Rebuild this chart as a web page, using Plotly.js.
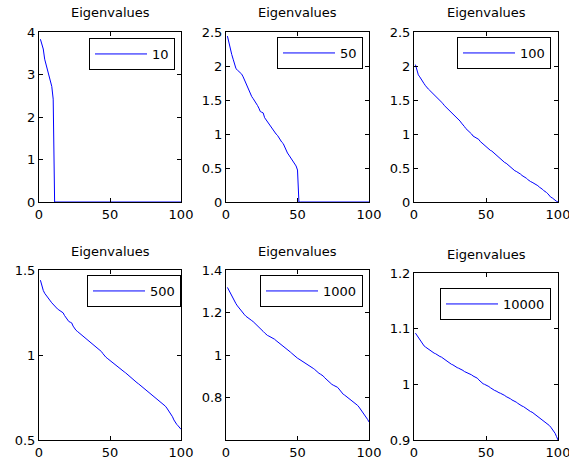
<!DOCTYPE html>
<html>
<head>
<meta charset="utf-8">
<script src="https://cdn.plot.ly/plotly-3.0.1.min.js"></script>
<style>html,body{margin:0;padding:0;background:#fff;}#chart{width:569px;height:465px;}</style>
</head>
<body>
<div id="chart"></div>
<script>
// Legend labels (matrix sizes)
const seriesNames = ['10', '50', '100', '500', '1000', '10000'];
const subplotTitle = 'Eigenvalues';

// Eigenvalue index 1..100
const idx = [];
for (let i = 1; i <= 100; i++) idx.push(i);

const eig10 = [3.83,3.72,3.60,3.36,3.22,3.12,2.98,2.85,2.72,2.42,
  0,0,0,0,0,0,0,0,0,0, 0,0,0,0,0,0,0,0,0,0, 0,0,0,0,0,0,0,0,0,0,
  0,0,0,0,0,0,0,0,0,0, 0,0,0,0,0,0,0,0,0,0, 0,0,0,0,0,0,0,0,0,0,
  0,0,0,0,0,0,0,0,0,0, 0,0,0,0,0,0,0,0,0,0, 0,0,0,0,0,0,0,0,0,0];

const eig50 = [2.44,2.34,2.25,2.17,2.10,2.02,1.96,1.94,1.92,1.89,
  1.88,1.84,1.79,1.74,1.70,1.63,1.58,1.55,1.52,1.49,
  1.46,1.42,1.38,1.33,1.32,1.31,1.24,1.21,1.18,1.15,
  1.12,1.09,1.06,1.02,1.00,0.98,0.94,0.91,0.88,0.86,
  0.81,0.76,0.72,0.69,0.66,0.63,0.60,0.57,0.53,0.47,
  0,0,0,0,0,0,0,0,0,0, 0,0,0,0,0,0,0,0,0,0, 0,0,0,0,0,0,0,0,0,0,
  0,0,0,0,0,0,0,0,0,0, 0,0,0,0,0,0,0,0,0,0];

const eig100 = [2.02,1.92,1.87,1.84,1.80,1.77,1.74,1.71,1.68,1.66,
  1.64,1.62,1.59,1.57,1.55,1.53,1.51,1.49,1.47,1.45,
  1.42,1.40,1.38,1.36,1.34,1.32,1.29,1.27,1.25,1.23,
  1.21,1.19,1.16,1.14,1.11,1.08,1.06,1.05,1.03,1.00,
  0.97,0.96,0.95,0.94,0.92,0.89,0.87,0.85,0.83,0.81,
  0.79,0.78,0.76,0.75,0.73,0.71,0.70,0.68,0.66,0.64,
  0.62,0.60,0.58,0.57,0.55,0.53,0.52,0.50,0.48,0.46,
  0.45,0.44,0.42,0.41,0.39,0.38,0.37,0.35,0.33,0.31,
  0.30,0.29,0.28,0.26,0.25,0.24,0.22,0.21,0.19,0.17,
  0.16,0.14,0.12,0.09,0.07,0.06,0.04,0.02,0.01,0.00];

const eig500 = [1.440,1.405,1.380,1.363,1.350,1.339,1.328,1.318,1.307,1.297,
  1.288,1.279,1.271,1.265,1.259,1.254,1.248,1.232,1.218,1.207,
  1.197,1.193,1.189,1.170,1.154,1.146,1.139,1.132,1.125,1.118,
  1.111,1.104,1.098,1.091,1.084,1.078,1.071,1.064,1.058,1.051,
  1.044,1.038,1.031,1.020,1.008,0.996,0.988,0.981,0.974,0.967,
  0.960,0.953,0.946,0.938,0.931,0.925,0.919,0.913,0.907,0.901,
  0.895,0.887,0.879,0.872,0.864,0.857,0.850,0.844,0.837,0.831,
  0.824,0.817,0.810,0.803,0.797,0.790,0.783,0.777,0.770,0.762,
  0.755,0.748,0.740,0.732,0.726,0.720,0.715,0.709,0.699,0.688,
  0.677,0.665,0.652,0.637,0.618,0.601,0.592,0.583,0.573,0.563];

const eig1000 = [1.318,1.305,1.290,1.274,1.261,1.250,1.241,1.231,1.222,1.212,
  1.204,1.196,1.189,1.182,1.176,1.171,1.167,1.162,1.157,1.151,
  1.145,1.139,1.132,1.125,1.118,1.111,1.104,1.097,1.092,1.089,
  1.086,1.082,1.079,1.074,1.068,1.063,1.058,1.053,1.047,1.041,
  1.036,1.031,1.025,1.020,1.014,1.008,1.001,0.995,0.989,0.985,
  0.981,0.977,0.973,0.969,0.964,0.960,0.955,0.951,0.946,0.941,
  0.937,0.932,0.925,0.919,0.914,0.910,0.906,0.901,0.893,0.886,
  0.879,0.872,0.866,0.862,0.858,0.855,0.851,0.848,0.840,0.831,
  0.822,0.815,0.811,0.806,0.801,0.797,0.792,0.786,0.781,0.775,
  0.769,0.763,0.755,0.746,0.737,0.728,0.718,0.709,0.697,0.685];

const eig10000 = [1.092,1.088,1.084,1.080,1.076,1.072,1.069,1.067,1.065,1.063,
  1.061,1.059,1.057,1.056,1.055,1.053,1.052,1.050,1.049,1.047,
  1.045,1.044,1.042,1.040,1.038,1.036,1.035,1.033,1.032,1.030,
  1.029,1.028,1.026,1.025,1.023,1.022,1.020,1.019,1.018,1.017,
  1.015,1.014,1.013,1.011,1.008,1.005,1.003,1.001,1.000,0.999,
  0.998,0.996,0.994,0.992,0.990,0.989,0.988,0.986,0.985,0.984,
  0.983,0.981,0.980,0.978,0.977,0.975,0.974,0.972,0.971,0.969,
  0.968,0.966,0.964,0.963,0.961,0.960,0.958,0.957,0.955,0.953,
  0.951,0.950,0.948,0.946,0.944,0.942,0.940,0.939,0.937,0.935,
  0.933,0.931,0.929,0.926,0.923,0.920,0.916,0.912,0.906,0.900];

const allSeries = [eig10, eig50, eig100, eig500, eig1000, eig10000];

const xTicks = [0, 50, 100];
const yRanges = [[0,4],[0,2.5],[0,2.5],[0.5,1.5],[0.6,1.4],[0.9,1.2]];
const yTicks = [[0,1,2,3,4],[0,0.5,1,1.5,2,2.5],[0,0.5,1,1.5,2,2.5],[0.5,1,1.5],[0.8,1,1.2,1.4],[0.9,1,1.1,1.2]];

const W = 569, H = 465;
// pixel boxes of the axes [left, right, top, bottom]
const boxes = [[39,181,32,202],[226,369,32,202],[414,558,32,202],
               [39,181,270,440],[226,369,270,440],[414,558,273,440]];
// legend top-right corners in pixels
const legPos = [[175,38],[363,37],[551,37],[181,275],[363,275],[551,288]];
const titleY = [13,13,13,251,251,255];

const FONT = 'DejaVu Sans, Liberation Sans, Arial, sans-serif';
const data = [];
const layout = {
  width: W, height: H,
  margin: {l:0, r:0, t:0, b:0},
  paper_bgcolor: '#fff', plot_bgcolor: '#fff',
  font: {family: FONT, size: 13, color: '#000'},
  annotations: []
};

for (let k = 0; k < 6; k++) {
  const n = k + 1;
  const sfx = n === 1 ? '' : String(n);
  const legName = n === 1 ? 'legend' : 'legend' + n;
  data.push({
    x: idx, y: allSeries[k], type: 'scatter', mode: 'lines',
    name: seriesNames[k],
    line: {color: '#0000ff', width: 1},
    xaxis: 'x' + sfx, yaxis: 'y' + sfx,
    legend: legName, showlegend: true
  });
  const b = boxes[k];
  const common = {
    showgrid: false, zeroline: false, showline: true, linecolor: '#000', linewidth: 1,
    mirror: 'ticks', ticks: 'inside', ticklen: 4, tickcolor: '#000', tickwidth: 1,
    ticklabeloverflow: 'allow',
    tickfont: {family: FONT, size: 13, color: '#000'}, fixedrange: true
  };
  layout['xaxis' + sfx] = Object.assign({}, common, {
    domain: [b[0]/W, b[1]/W], anchor: 'y' + sfx,
    range: [0, 100], tickvals: xTicks, ticktext: xTicks.map(String)
  });
  layout['yaxis' + sfx] = Object.assign({}, common, {
    domain: [1 - b[3]/H, 1 - b[2]/H], anchor: 'x' + sfx,
    range: yRanges[k], tickvals: yTicks[k], ticktext: yTicks[k].map(String)
  });
  layout[legName] = {
    x: legPos[k][0]/W, y: 1 - legPos[k][1]/H, xanchor: 'right', yanchor: 'top',
    xref: 'paper', yref: 'paper', itemwidth: 52,
    bgcolor: '#fff', bordercolor: '#000', borderwidth: 1,
    font: {family: FONT, size: 13, color: '#000'}
  };
  layout.annotations.push({
    text: subplotTitle, xref: 'paper', yref: 'paper',
    x: (b[0] + b[1]) / 2 / W, y: 1 - titleY[k]/H,
    xanchor: 'center', yanchor: 'middle', showarrow: false,
    font: {family: FONT, size: 13, color: '#000'}
  });
}

Plotly.newPlot('chart', data, layout, {displayModeBar: false, staticPlot: true});
</script>
</body>
</html>
